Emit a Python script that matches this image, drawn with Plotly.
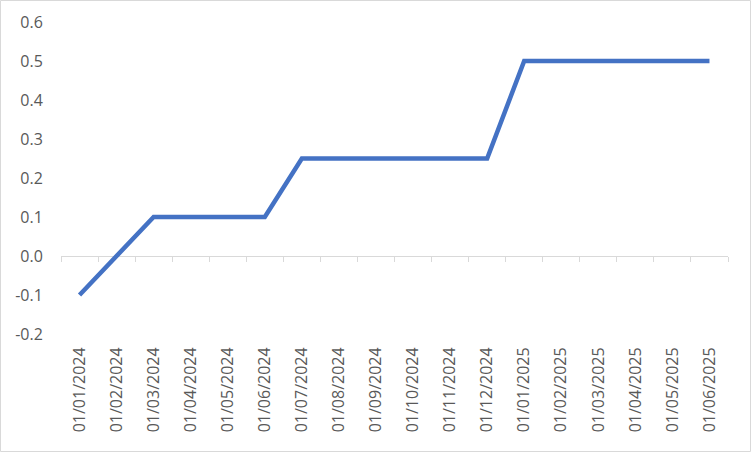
import plotly.graph_objects as go

# monthly series, Jan 2024 - Jun 2025
dates = ['01/01/2024', '01/02/2024', '01/03/2024', '01/04/2024', '01/05/2024', '01/06/2024',
         '01/07/2024', '01/08/2024', '01/09/2024', '01/10/2024', '01/11/2024', '01/12/2024',
         '01/01/2025', '01/02/2025', '01/03/2025', '01/04/2025', '01/05/2025', '01/06/2025']
values = [-0.1, 0.0, 0.1, 0.1, 0.1, 0.1,
          0.25, 0.25, 0.25, 0.25, 0.25, 0.25,
          0.5, 0.5, 0.5, 0.5, 0.5, 0.5]
y_ticks = [-0.2, -0.1, 0.0, 0.1, 0.2, 0.3, 0.4, 0.5, 0.6]
y_labels = ['-0.2', '-0.1', '0.0', '0.1', '0.2', '0.3', '0.4', '0.5', '0.6']

W, H = 751, 452
ml, mr, mt, mb = 61, 23, 22, 118
pw, ph = W - ml - mr, H - mt - mb
ymin, ymax = -0.2, 0.6

fig = go.Figure()
fig.add_trace(go.Scatter(x=dates, y=values, mode='lines',
                         line=dict(color='#4472C4', width=4.5),
                         hoverinfo='skip', showlegend=False))
# invisible copy to carry the axis drawn at y=0
fig.add_trace(go.Scatter(x=dates, y=values, mode='lines', xaxis='x2',
                         line=dict(color='rgba(0,0,0,0)', width=0),
                         hoverinfo='skip', showlegend=False))

font = dict(family='Open Sans', size=16, color='#595959')

fig.update_layout(
    width=W, height=H,
    margin=dict(l=ml, r=mr, t=mt, b=mb),
    paper_bgcolor='white', plot_bgcolor='white',
    font=font,
    xaxis=dict(type='category', range=[-0.5, len(dates) - 0.5],
               showline=False, showgrid=False, zeroline=False,
               tickangle=-90, ticks='outside', ticklen=6, tickcolor='white',
               tickfont=font),
    xaxis2=dict(type='category', overlaying='x', anchor='free',
                position=(0 - ymin) / (ymax - ymin), side='bottom',
                range=[-0.5, len(dates) - 0.5],
                showline=True, linecolor='#d9d9d9', linewidth=1,
                ticks='outside', ticklen=5, tickcolor='#d9d9d9',
                tickson='boundaries', showticklabels=False,
                showgrid=False, zeroline=False, layer='below traces'),
    yaxis=dict(range=[ymin, ymax], tickvals=y_ticks, ticktext=y_labels,
               showgrid=False, zeroline=False, showline=False,
               ticks='outside', ticklen=14, tickcolor='white',
               tickfont=font),
)

# light grey chart border
fig.add_shape(type='rect', xref='paper', yref='paper',
              x0=-(ml - 0.5) / pw, x1=1 + (mr - 0.5) / pw,
              y0=-(mb - 0.5) / ph, y1=1 + (mt - 0.5) / ph,
              line=dict(color='#d9d9d9', width=1), layer='below')

fig.write_html("out.html", config={'displayModeBar': False},
               post_script="document.body.style.margin='0';")
